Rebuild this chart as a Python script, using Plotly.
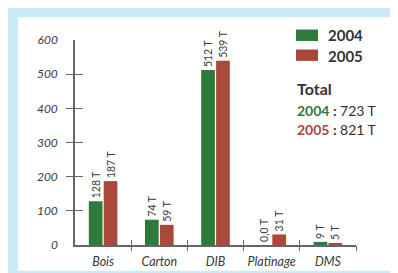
import plotly.graph_objects as go

categories = ["Bois", "Carton", "DIB", "Platinage", "DMS"]
values_2004 = [128, 74, 512, 0, 9]
values_2005 = [187, 59, 539, 31, 5]
labels_2004 = ["128 T", "74 T", "512 T", "0,0 T", "9 T"]
labels_2005 = ["187 T", "59 T", "539 T", "31 T", "5 T"]
y_ticks = [0, 100, 200, 300, 400, 500, 600]
y_marks = [100, 200, 300, 400, 500]
total_2004 = "723 T"
total_2005 = "821 T"

GREEN = "#2e7a3c"
RED = "#a8493a"
TXT = "#3a3a3a"
AX = "#666666"
FONT = "Lato"

W, H = 398, 273
L, R, T, B = 67, 50, 32, 25
PW, PH = W - L - R, H - T - B


def px(x):
    return (x - L) / PW


def py(y):
    return (H - B - y) / PH


fig = go.Figure()
for vals, labs, col, name in [(values_2004, labels_2004, GREEN, "2004"),
                               (values_2005, labels_2005, RED, "2005")]:
    fig.add_trace(go.Bar(
        x=categories, y=vals, name=name, marker=dict(color=col, line=dict(width=0)),
        text=labs, textposition="outside", textangle=-90, constraintext="none",
        textfont=dict(family=FONT, size=10.5, color=TXT), cliponaxis=False,
        showlegend=False, hoverinfo="skip"))

# helper invisible traces for crossing tick marks
fig.add_trace(go.Scatter(x=[None], y=[None], xaxis="x2", yaxis="y2", showlegend=False))
fig.add_trace(go.Scatter(x=[None], y=[None], xaxis="x3", yaxis="y3", showlegend=False))

n = len(categories)
bounds = [i + 0.5 for i in range(n)]

fig.update_layout(
    width=W, height=H,
    margin=dict(l=L, r=R, t=T, b=B, pad=0),
    paper_bgcolor="#c9eaf6", plot_bgcolor="rgba(0,0,0,0)",
    barmode="group", bargap=0.47, bargroupgap=0.08,
    font=dict(family=FONT, color=TXT),
    xaxis=dict(type="category", showline=True, linecolor=AX, linewidth=1.5,
               ticks="", showgrid=False, zeroline=False, range=[-0.5, n - 0.5],
               tickfont=dict(family=FONT, size=12.5, color=TXT, style="italic"),
               ticklabelstandoff=4),
    yaxis=dict(range=[0, 600], showline=True, linecolor=AX, linewidth=1.5,
               tickvals=y_ticks, ticks="", showgrid=False, zeroline=False,
               tickfont=dict(family=FONT, size=12, color=TXT, style="italic"),
               ticklabelstandoff=13),
    xaxis2=dict(overlaying="x", anchor="y2", range=[-0.5, n - 0.5], tickvals=bounds,
                ticks="outside", ticklen=5, tickwidth=1.3, tickcolor=AX,
                showticklabels=False, showgrid=False, zeroline=False, showline=False),
    yaxis2=dict(overlaying="y", anchor="x2", range=[0, 600], tickvals=y_marks,
                ticks="outside", ticklen=8, tickwidth=1.3, tickcolor=AX,
                showticklabels=False, showgrid=False, zeroline=False, showline=False),
    xaxis3=dict(overlaying="x", anchor="y3", range=[-0.5, n - 0.5], tickvals=bounds,
                ticks="inside", ticklen=5, tickwidth=1.3, tickcolor=AX,
                showticklabels=False, showgrid=False, zeroline=False, showline=False),
    yaxis3=dict(overlaying="y", anchor="x3", range=[0, 600], tickvals=y_marks,
                ticks="inside", ticklen=8, tickwidth=1.3, tickcolor=AX,
                showticklabels=False, showgrid=False, zeroline=False, showline=False),
)

shapes = [
    dict(type="rect", xref="paper", yref="paper", x0=px(10), x1=px(W + 2),
         y0=py(H + 2), y1=py(8), fillcolor="white", line=dict(width=0), layer="below"),
    dict(type="rect", xref="paper", yref="paper", x0=px(288), x1=px(310),
         y0=py(33), y1=py(21), fillcolor=GREEN, line=dict(width=0)),
    dict(type="rect", xref="paper", yref="paper", x0=px(288), x1=px(310),
         y0=py(54), y1=py(42), fillcolor=RED, line=dict(width=0)),
]
fig.update_layout(shapes=shapes)

ann = [
    dict(x=px(318), y=py(27), text="<b>2004</b>", font=dict(size=15, color="#333333")),
    dict(x=px(318), y=py(49), text="<b>2005</b>", font=dict(size=15, color="#333333")),
    dict(x=px(287), y=py(83), text="<b>Total</b>", font=dict(size=16, color="#333333")),
    dict(x=px(287), y=py(106),
         text=f"<b><span style='color:{GREEN}'>2004</span> :</b> {total_2004}",
         font=dict(size=14, color="#333333")),
    dict(x=px(287), y=py(126),
         text=f"<b><span style='color:{RED}'>2005</span> :</b> {total_2005}",
         font=dict(size=14, color="#333333")),
]
for a in ann:
    a.update(xref="paper", yref="paper", xanchor="left", yanchor="middle",
             showarrow=False)
    a["font"]["family"] = FONT
fig.update_layout(annotations=ann)

fig.write_html("out.html")
